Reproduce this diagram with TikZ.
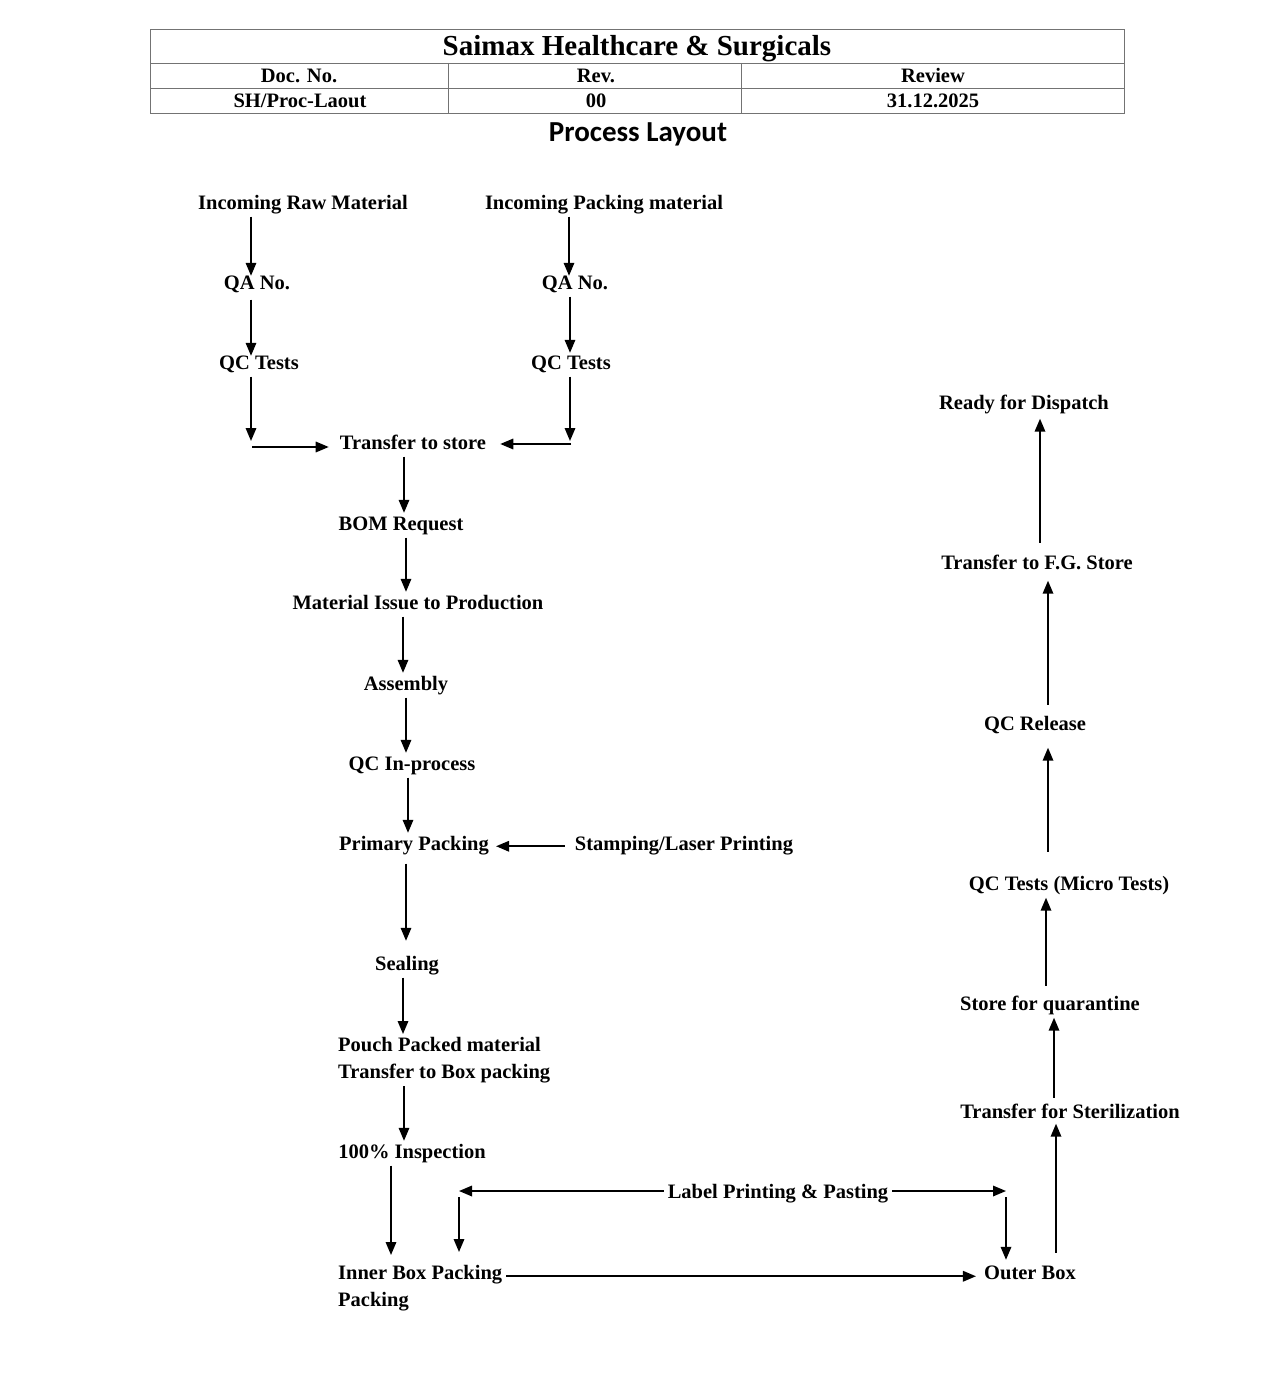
\documentclass[tikz,border=0pt]{standalone}
\usepackage{fontspec}
\setmainfont{Liberation Serif}
\newfontfamily\calibfont{Carlito}
\usetikzlibrary{arrows.meta,calc}
\begin{document}
\begin{tikzpicture}[x=1pt,y=-1pt,
  lbl/.style={font=\fontsize{20.5pt}{27pt}\selectfont\bfseries, inner xsep=4pt, inner ysep=3pt, text height=14pt, text depth=4.5pt, anchor=base},
  mlbl/.style={font=\fontsize{20.5pt}{27pt}\selectfont\bfseries, inner xsep=4pt, inner ysep=3pt, align=left, anchor=north west},
  tabtxt/.style={font=\fontsize{20.5pt}{24pt}\selectfont\bfseries, inner sep=0pt, anchor=base},
  tabline/.style={draw=black!55, line width=0.9pt},
  arr/.style={line width=1.7pt, -{Triangle[length=13pt,width=10.5pt]}}]
\useasboundingbox (0,0) rectangle (1275,1386);

% header table
\draw[tabline] (150,29) rectangle (1124,113);
\draw[tabline] (150,63) -- (1124,63);
\draw[tabline] (150,88) -- (1124,88);
\draw[tabline] (448,63) -- (448,113);
\draw[tabline] (741,63) -- (741,113);
\node[tabtxt, font=\fontsize{29pt}{32pt}\selectfont\bfseries] (title) at (637,55.5) {Saimax Healthcare \& Surgicals};
\node[tabtxt] (hdoc) at (299,83) {Doc. No.};
\node[tabtxt] (hrev) at (596,83) {Rev.};
\node[tabtxt] (hreview) at (933,83) {Review};
\node[tabtxt] (vdoc) at (300,108) {SH/Proc-Laout};
\node[tabtxt] (vrev) at (596,108) {00};
\node[tabtxt] (vreview) at (933,108) {31.12.2025};
\node[tabtxt, font=\calibfont\fontsize{29pt}{32pt}\selectfont\bfseries] (ptitle) at (638,142) {Process Layout};

% nodes
\node[lbl] (irm) at (303,209) {Incoming Raw Material};
\node[lbl] (ipm) at (604,209) {Incoming Packing material};
\node[lbl] (qa1) at (257,289) {QA No.};
\node[lbl] (qa2) at (575,289) {QA No.};
\node[lbl] (qc1) at (259,369) {QC Tests};
\node[lbl] (qc2) at (571,369) {QC Tests};
\node[lbl] (ts) at (413,449) {Transfer to store};
\node[lbl] (bom) at (401,530) {BOM Request};
\node[lbl] (mip) at (418,609) {Material Issue to Production};
\node[lbl] (asm) at (406,690) {Assembly};
\node[lbl] (qcip) at (412,770) {QC In-process};
\node[lbl] (pp) at (414,850) {Primary Packing};
\node[lbl] (slp) at (684,850) {Stamping/Laser Printing};
\node[lbl] (seal) at (407,970) {Sealing};
\node[mlbl] (pouch) at (334,1034) {Pouch Packed material\\Transfer to Box packing};
\node[lbl] (ins) at (412,1158) {100\% Inspection};
\node[mlbl] (ibp) at (334,1262) {Inner Box Packing\\Packing};
\node[lbl] (lpp) at (778,1198) {Label Printing \& Pasting};
\node[lbl] (ob) at (1030,1279) {Outer Box};
\node[lbl] (tfs) at (1070,1118) {Transfer for Sterilization};
\node[lbl] (sfq) at (1050,1010) {Store for quarantine};
\node[lbl] (qcm) at (1069,890) {QC Tests (Micro Tests)};
\node[lbl] (qcr) at (1035,730) {QC Release};
\node[lbl] (tfg) at (1037,569) {Transfer to F.G. Store};
\node[lbl] (rfd) at (1024,409) {Ready for Dispatch};

% junction coordinates
\coordinate (j1) at (251,441);
\coordinate (j1b) at (252,447);
\coordinate (j2) at (570,441);
\coordinate (j2b) at (571,444);
\coordinate (l1) at (459,1191);
\coordinate (l1b) at (459,1197);
\coordinate (r1) at (1006,1191);
\coordinate (r1b) at (1006,1197);

% left intake column
\draw[arr, shorten >=-4pt] ($(irm.south -| qa1)+(-6,0)$) -- ($(qa1.north)+(-6,0)$);
\draw[arr, shorten <=3pt, shorten >=-4pt] ($(qa1.south)+(-6,0)$) -- ($(qc1.north -| qa1)+(-6,0)$);
\draw[arr] ($(qc1.south)+(-8,0)$) -- (j1);
\draw[arr, shorten >=7pt] (j1b) -- (j1b -| ts.west);

% right intake column
\draw[arr, shorten >=-4pt] ($(ipm.south -| qa2)+(-6,0)$) -- ($(qa2.north)+(-6,0)$);
\draw[arr, shorten >=-1pt] ($(qa2.south)+(-5,0)$) -- ($(qc2.north -| qa2)+(-5,0)$);
\draw[arr] ($(qc2.south)+(-1,0)$) -- (j2);
\draw[arr, shorten >=10pt] (j2b) -- (j2b -| ts.east);

% main column
\draw[arr] ($(ts.south -| bom)+(3,0)$) -- ($(bom.north)+(3,0)$);
\draw[arr] ($(bom.south)+(5,0)$) -- ($(mip.north -| bom)+(5,0)$);
\draw[arr] ($(mip.south -| asm)+(-3,0)$) -- ($(asm.north)+(-3,0)$);
\draw[arr] (asm.south) -- (qcip.north -| asm);
\draw[arr] ($(qcip.south)+(-4,0)$) -- ($(pp.north -| qcip)+(-4,0)$);
\draw[arr, shorten <=6pt, shorten >=3pt] ($(slp.west)+(0,1)$) -- ($(pp.east)+(0,1)$);
\draw[arr, shorten <=6pt, shorten >=12pt] ($(pp.south -| seal)+(-1,0)$) -- ($(seal.north)+(-1,0)$);
\draw[arr] ($(seal.south)+(-4,0)$) -- ($(pouch.north -| seal)+(-4,0)$);
\draw[arr] ($(pouch.south -| ins)+(-8,0)$) -- ($(ins.north)+(-8,0)$);
\draw[arr, shorten >=7pt] ($(ins.south)+(-21,0)$) -- ($(ibp.north -| ins)+(-21,0)$);

% label printing
\draw[arr] (lpp.west |- l1) -- (l1);
\draw[arr, shorten >=10pt] (l1b) -- (l1b |- ibp.north);
\draw[arr] (lpp.east |- r1) -- (r1);
\draw[arr, shorten >=2pt] (r1b) -- (r1b |- ob.north);

% inner to outer box
\draw[arr, shorten >=4pt] ($(ibp.east |- ob.west)+(0,2)$) -- ($(ob.west)+(0,2)$);

% right column (upward)
\draw[arr, shorten <=9pt, shorten >=-2pt] ($(ob.north)+(26,0)$) -- ($(tfs.south -| ob)+(26,0)$);
\draw[arr, shorten <=3pt] ($(tfs.north -| sfq)+(4,0)$) -- ($(sfq.south)+(4,0)$);
\draw[arr, shorten <=7pt] ($(sfq.north)+(-4,0)$) -- ($(qcm.south -| sfq)+(-4,0)$);
\draw[arr, shorten <=21pt, shorten >=10pt] ($(qcm.north -| qcr)+(13,0)$) -- ($(qcr.south)+(13,0)$);
\draw[arr, shorten <=8pt, shorten >=4pt] ($(qcr.north)+(13,0)$) -- ($(tfg.south -| qcr)+(13,0)$);
\draw[arr, shorten <=9pt, shorten >=2pt] ($(tfg.north -| rfd)+(16,0)$) -- ($(rfd.south)+(16,0)$);
\end{tikzpicture}
\end{document}
